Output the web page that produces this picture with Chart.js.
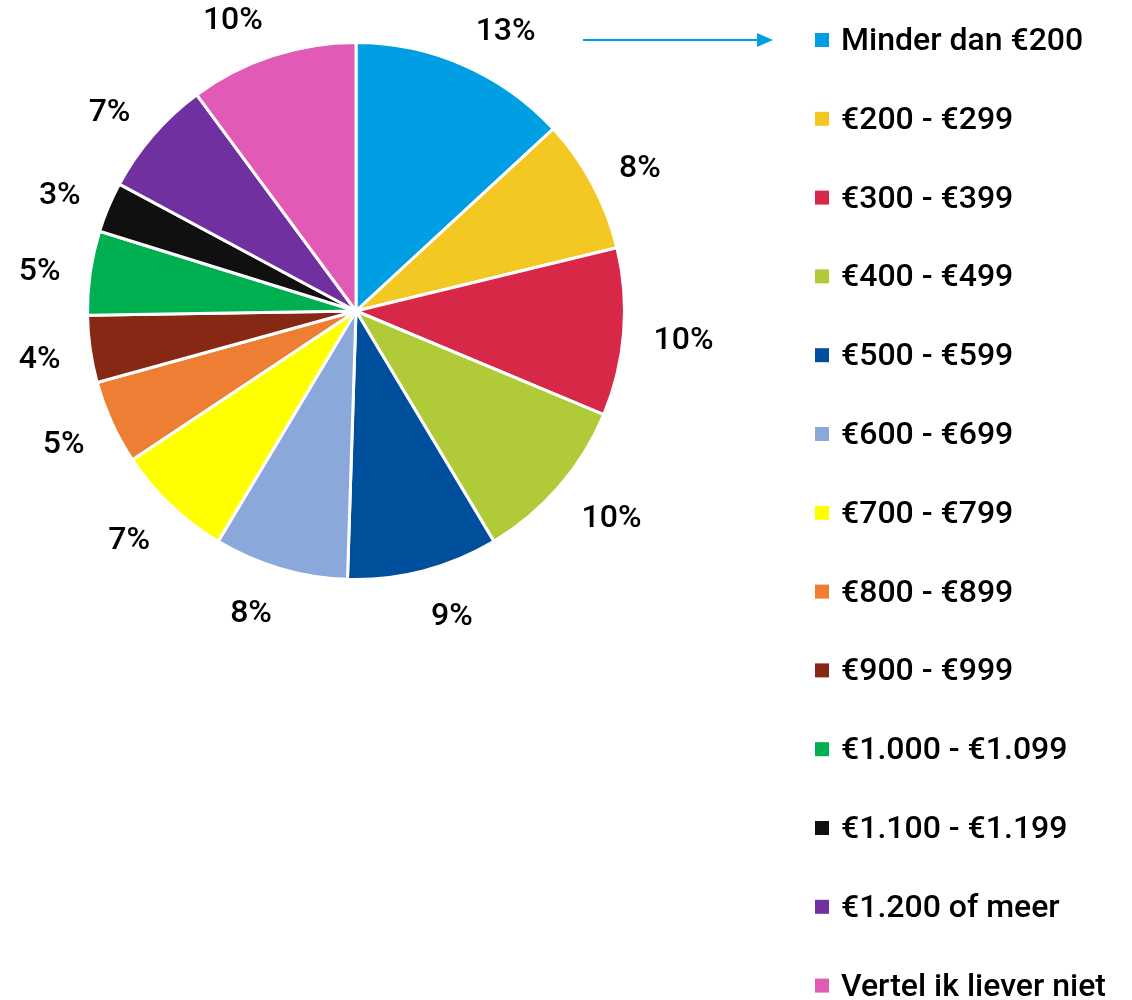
<!DOCTYPE html>
<html>
<head>
<meta charset="utf-8">
<script src="https://cdn.jsdelivr.net/npm/chart.js@4"></script>
<style>
  html, body { margin: 0; padding: 0; background: #fff; }
  #wrap { width: 1132px; height: 1000px; position: relative; }
</style>
</head>
<body>
<div id="wrap"><canvas id="pieChart" width="1132" height="1000"></canvas></div>
<script>
// data
const categories = [
    'Minder dan €200', '€200 - €299', '€300 - €399', '€400 - €499',
    '€500 - €599', '€600 - €699', '€700 - €799', '€800 - €899',
    '€900 - €999', '€1.000 - €1.099', '€1.100 - €1.199',
    '€1.200 of meer', 'Vertel ik liever niet'
];
const percentages = [13, 8, 10, 10, 9, 8, 7, 5, 4, 5, 3, 7, 10];
const sliceColors = [
    '#009FE3', '#F3C822', '#D72847', '#B0CA38',
    '#004F9D', '#8AA8D9', '#FFFF00', '#ED7E33',
    '#862814', '#00AF50', '#101010', '#7030A0', '#E05AB6'
];

const FONT = '500 32px Roboto, "DejaVu Sans", sans-serif';
const CAP = 11; // half cap height, to centre digits on the anchor

// percentage labels outside each slice (Excel style: text edge anchored, not centred)
const outsideLabels = {
    id: 'outsideLabels',
    afterDatasetsDraw(chart) {
        const ctx = chart.ctx;
        const meta = chart.getDatasetMeta(0);
        ctx.save();
        ctx.font = FONT;
        ctx.fillStyle = '#000';
        ctx.textBaseline = 'alphabetic';
        meta.data.forEach((arc, i) => {
            const mid = (arc.startAngle + arc.endAngle) / 2;
            const dx = Math.cos(mid), dy = Math.sin(mid);
            const x = arc.x + dx * (arc.outerRadius + 30);
            const y = arc.y + dy * (arc.outerRadius + 42) + 2;
            ctx.textAlign = dx >= 0 ? 'left' : 'right';
            ctx.fillText(percentages[i] + '%', x, y + CAP);
        });
        ctx.restore();
    }
};

// legend on the right + arrow pointing at the first entry
const sideLegend = {
    id: 'sideLegend',
    afterDraw(chart) {
        const ctx = chart.ctx;
        const x0 = 815, y0 = 40, step = 78.8;
        ctx.save();
        ctx.font = FONT;
        ctx.textBaseline = 'alphabetic';
        categories.forEach((name, i) => {
            const y = y0 + i * step;
            ctx.fillStyle = sliceColors[i];
            ctx.fillRect(x0, y - 7, 14, 14);
            ctx.fillStyle = '#000';
            ctx.fillText(name, x0 + 26, y + CAP - 1);
        });
        // arrow
        ctx.strokeStyle = '#009FE3';
        ctx.fillStyle = '#009FE3';
        ctx.lineWidth = 2;
        ctx.beginPath();
        ctx.moveTo(583, y0);
        ctx.lineTo(760, y0);
        ctx.stroke();
        ctx.beginPath();
        ctx.moveTo(773, y0);
        ctx.lineTo(757, y0 - 7);
        ctx.lineTo(757, y0 + 7);
        ctx.closePath();
        ctx.fill();
        ctx.restore();
    }
};

new Chart(document.getElementById('pieChart'), {
    type: 'pie',
    data: {
        labels: categories,
        datasets: [{
            data: percentages,
            backgroundColor: sliceColors,
            borderColor: '#ffffff',
            borderWidth: 3
        }]
    },
    options: {
        responsive: false,
        animation: false,
        layout: {
            padding: { left: 86, top: 41, right: 506, bottom: 419 }
        },
        plugins: {
            legend: { display: false },
            tooltip: { enabled: false }
        }
    },
    plugins: [outsideLabels, sideLegend]
});
</script>
</body>
</html>
